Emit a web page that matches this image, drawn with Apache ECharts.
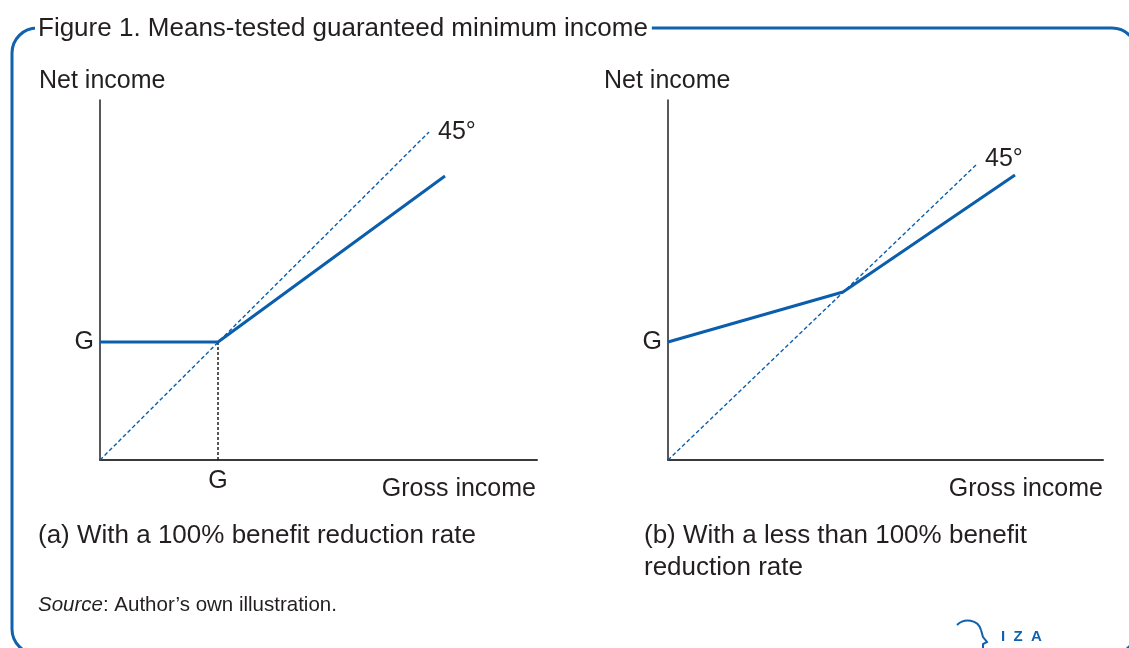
<!DOCTYPE html>
<html>
<head>
<meta charset="utf-8">
<script src="https://cdn.jsdelivr.net/npm/echarts@6/dist/echarts.min.js"></script>
<style>
html,body{margin:0;padding:0;background:#fff;}
#chart{width:1129px;height:648px;}
</style>
</head>
<body>
<div id="chart"></div>
<script>
// ---- data (schematic units) ----
const gLevel = 118;
const tickLabelG = ['G'];
const panelA45 = [[0, 0], [329, 328]];
const panelAIncome = [[0, 118], [118, 118], [345, 284]];
const panelAGuide = [[118, 0], [118, 118]];
const panelB45 = [[0, 0], [309, 296]];
const panelBIncome = [[0, 118], [175, 168], [347, 285]];
const axisNames = { y: 'Net income', x: 'Gross income' };
const captions = ['(a) With a 100% benefit reduction rate', '(b) With a less than 100% benefit\nreduction rate'];

const FONT = '"Liberation Sans", Arial, sans-serif';
const TXT = '#231f20';
const BLUE = '#0b5eab';
const FRAME = '#1062ae';

const chart = echarts.init(document.getElementById('chart'));

function xAxisCfg(grid, max, labels) {
  return {
    type: 'value', gridIndex: grid, min: 0, max: max,
    splitLine: { show: false },
    axisTick: { show: false },
    axisLine: { show: true, onZero: false, lineStyle: { color: '#3a3a3a', width: 2 } },
    axisLabel: labels ? {
      show: true, customValues: [gLevel], formatter: () => tickLabelG[0],
      fontFamily: FONT, fontSize: 25, color: TXT, margin: 9
    } : { show: false }
  };
}
function yAxisCfg(grid, max) {
  return {
    type: 'value', gridIndex: grid, min: 0, max: max,
    splitLine: { show: false },
    axisTick: { show: false },
    axisLine: { show: true, onZero: false, lineStyle: { color: '#231f20', width: 1.5 } },
    axisLabel: {
      show: true, customValues: [gLevel], formatter: () => tickLabelG[0],
      fontFamily: FONT, fontSize: 25, color: TXT, margin: 6
    }
  };
}

const option = {
  animation: false,
  backgroundColor: '#fff',
  grid: [
    { left: 100, top: 100, width: 437, height: 360 },
    { left: 668, top: 100, width: 435, height: 360 }
  ],
  xAxis: [xAxisCfg(0, 437, true), xAxisCfg(1, 435, false)],
  yAxis: [yAxisCfg(0, 360), yAxisCfg(1, 360)],
  series: [
    {
      type: 'line', xAxisIndex: 0, yAxisIndex: 0, data: panelA45, symbol: 'none',
      lineStyle: { color: BLUE, width: 1.4, type: [4, 2.5] },
      endLabel: { show: true, formatter: '45°', fontFamily: FONT, fontSize: 25, color: TXT, distance: 9, offset: [0, 0] }
    },
    {
      type: 'line', xAxisIndex: 0, yAxisIndex: 0, data: panelAGuide, symbol: 'none',
      lineStyle: { color: '#231f20', width: 1.5, type: [3, 2] }
    },
    {
      type: 'line', xAxisIndex: 0, yAxisIndex: 0, data: panelAIncome, symbol: 'none',
      lineStyle: { color: BLUE, width: 3 }
    },
    {
      type: 'line', xAxisIndex: 1, yAxisIndex: 1, data: panelB45, symbol: 'none',
      lineStyle: { color: BLUE, width: 1.4, type: [4, 2.5] },
      endLabel: { show: true, formatter: '45°', fontFamily: FONT, fontSize: 25, color: TXT, distance: 8, offset: [0, -5] }
    },
    {
      type: 'line', xAxisIndex: 1, yAxisIndex: 1, data: panelBIncome, symbol: 'none',
      lineStyle: { color: BLUE, width: 3 }
    }
  ],
  graphic: [
    { type: 'rect', z: 0, shape: { x: 12, y: 28, width: 1125, height: 626, r: 25 },
      style: { fill: 'none', stroke: FRAME, lineWidth: 3 } },
    { type: 'text', z: 10, x: 35, y: 29,
      style: { text: 'Figure 1. Means-tested guaranteed minimum income', font: '26px ' + FONT, fill: TXT,
               textVerticalAlign: 'middle', backgroundColor: '#fff', padding: [2, 4, 2, 3] } },
    { type: 'text', z: 10, x: 39, y: 81, style: { text: axisNames.y, font: '25px ' + FONT, fill: TXT, textVerticalAlign: 'middle' } },
    { type: 'text', z: 10, x: 604, y: 81, style: { text: axisNames.y, font: '25px ' + FONT, fill: TXT, textVerticalAlign: 'middle' } },
    { type: 'text', z: 10, x: 536, y: 489, style: { text: axisNames.x, font: '25px ' + FONT, fill: TXT, textAlign: 'right', textVerticalAlign: 'middle' } },
    { type: 'text', z: 10, x: 1103, y: 489, style: { text: axisNames.x, font: '25px ' + FONT, fill: TXT, textAlign: 'right', textVerticalAlign: 'middle' } },
    { type: 'text', z: 10, x: 38, y: 520, style: { text: captions[0], font: '26px ' + FONT, fill: TXT, lineHeight: 32 } },
    { type: 'text', z: 10, x: 644, y: 520, style: { text: captions[1], font: '26px ' + FONT, fill: TXT, lineHeight: 32 } },
    { type: 'text', z: 10, x: 38, y: 605,
      style: { text: '{i|Source}: Author\u2019s own illustration.', font: '20.5px ' + FONT, fill: TXT, textVerticalAlign: 'middle',
               rich: { i: { fontStyle: 'italic', fontFamily: FONT, fontSize: 20.5, fill: TXT } } } },
    { type: 'bezierCurve', z: 10,
      shape: { x1: 957, y1: 625, cpx1: 964, cpy1: 618, cpx2: 978, cpy2: 619, x2: 981, y2: 630 },
      style: { fill: 'none', stroke: FRAME, lineWidth: 2 } },
    { type: 'polyline', z: 10,
      shape: { points: [[981, 630], [983, 637], [987, 642], [983, 644], [983, 648]] },
      style: { fill: 'none', stroke: FRAME, lineWidth: 2 } },
    { type: 'text', z: 10, x: 1001, y: 637,
      style: { text: 'I  Z  A', font: 'bold 15px ' + FONT, fill: FRAME, textVerticalAlign: 'middle' } }
  ]
};
chart.setOption(option);
</script>
</body>
</html>
